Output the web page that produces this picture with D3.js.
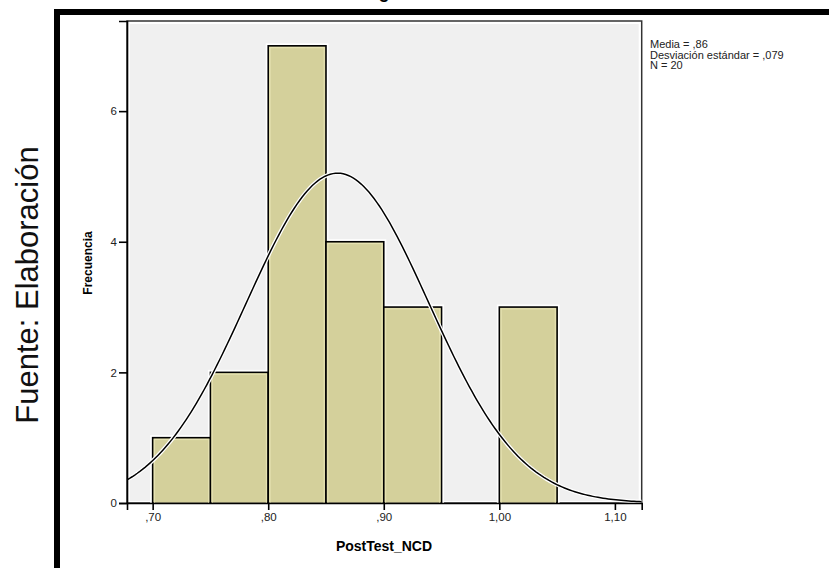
<!DOCTYPE html>
<html lang="es">
<head>
<meta charset="UTF-8">
<title>Histograma PostTest_NCD</title>
<script src="https://cdnjs.cloudflare.com/ajax/libs/d3/7.8.5/d3.min.js"></script>
<style>
  body { margin: 0; background: #fff; }
  svg { display: block; font-family: "Liberation Sans", Arial, sans-serif; }
</style>
</head>
<body>
<svg id="chart" width="829" height="568"></svg>
<script>
// data
const binStarts = [0.70, 0.75, 0.80, 0.85, 0.90, 0.95, 1.00];
const binCounts = [1, 2, 7, 4, 3, 0, 3];
const binWidth = 0.05;
const xTicks = [0.70, 0.80, 0.90, 1.00, 1.10];
const xTickLabels = [",70", ",80", ",90", "1,00", "1,10"];
const yTicks = [0, 2, 4, 6];
const statMean = 0.86;
const statSd = 0.079;
const statN = 20;
const legendLines = ["Media = ,86", "Desviación estándar = ,079", "N = 20"];

const svg = d3.select('#chart');

// plot box
const boxL = 127, boxR = 641.7, boxT = 21, boxB = 503;

const x = d3.scaleLinear().domain([0.6778, 1.1232]).range([boxL, boxR]);
const y = d3.scaleLinear().domain([0, 7.38]).range([boxB, boxT]);

// outer document frame + title cut by the page top
svg.append('text')
    .attr('x', 383).attr('y', -2)
    .attr('text-anchor', 'middle')
    .attr('font-size', 18).attr('font-weight', 'bold')
    .text('Histograma');

svg.append('path')
    .attr('d', 'M57,575 V12 H840')
    .attr('fill', 'none')
    .attr('stroke', '#000')
    .attr('stroke-width', 6);

svg.append('text')
    .attr('transform', 'translate(38,285) rotate(-90)')
    .attr('text-anchor', 'middle')
    .attr('font-size', 31)
    .attr('fill', '#111')
    .text('Fuente: Elaboración');

// plot background
svg.append('rect')
    .attr('x', boxL).attr('y', boxT)
    .attr('width', boxR - boxL).attr('height', boxB - boxT)
    .attr('fill', '#fff')
    .attr('stroke', '#333').attr('stroke-width', 1.5);
svg.append('rect')
    .attr('x', boxL + 3).attr('y', boxT + 3)
    .attr('width', boxR - boxL - 6).attr('height', boxB - boxT - 5)
    .attr('fill', '#f0f0f0');

svg.append('clipPath').attr('id', 'clip')
    .append('rect')
    .attr('x', boxL).attr('y', boxT)
    .attr('width', boxR - boxL).attr('height', boxB - boxT);

const plot = svg.append('g').attr('clip-path', 'url(#clip)');

const bins = binStarts.map((s, i) => ({ x0: s, x1: s + binWidth, n: binCounts[i] }))
    .filter(d => d.n > 0);

// white halo
plot.selectAll('rect.halo').data(bins).enter().append('rect')
    .attr('class', 'halo')
    .attr('x', d => x(d.x0)).attr('y', d => y(d.n))
    .attr('width', d => x(d.x1) - x(d.x0))
    .attr('height', d => y(0) - y(d.n))
    .attr('fill', 'none').attr('stroke', '#fff').attr('stroke-width', 5);

plot.selectAll('rect.bar').data(bins).enter().append('rect')
    .attr('class', 'bar')
    .attr('x', d => x(d.x0)).attr('y', d => y(d.n))
    .attr('width', d => x(d.x1) - x(d.x0))
    .attr('height', d => y(0) - y(d.n))
    .attr('fill', '#d4d09b').attr('stroke', '#000').attr('stroke-width', 1.6);

plot.selectAll('rect.inner').data(bins).enter().append('rect')
    .attr('class', 'inner')
    .attr('x', d => x(d.x0) + 1.8).attr('y', d => y(d.n) + 1.8)
    .attr('width', d => x(d.x1) - x(d.x0) - 3.6)
    .attr('height', d => y(0) - y(d.n) - 1.8)
    .attr('fill', 'none').attr('stroke', '#e6e2b2').attr('stroke-width', 1.2);

// normal curve
const scaleN = statN * binWidth;
const pdf = v => scaleN / (statSd * Math.sqrt(2 * Math.PI)) *
    Math.exp(-0.5 * Math.pow((v - statMean) / statSd, 2));
const curvePts = d3.range(0, 201).map(i => {
    const v = x.domain()[0] + (x.domain()[1] - x.domain()[0]) * i / 200;
    return [v, pdf(v)];
});
const line = d3.line().x(d => x(d[0])).y(d => y(d[1]));
plot.append('path').datum(curvePts)
    .attr('d', line).attr('fill', 'none')
    .attr('stroke', '#fff').attr('stroke-width', 4);
plot.append('path').datum(curvePts)
    .attr('d', line).attr('fill', 'none')
    .attr('stroke', '#000').attr('stroke-width', 1.5);

// axes
const xAxis = svg.append('g')
    .attr('transform', `translate(0,${boxB})`)
    .call(d3.axisBottom(x).tickValues(xTicks).tickSize(7).tickPadding(3)
        .tickFormat((d, i) => xTickLabels[i]));
const yAxis = svg.append('g')
    .attr('transform', `translate(${boxL},0)`)
    .call(d3.axisLeft(y).tickValues(yTicks).tickSize(8).tickPadding(2));

[xAxis, yAxis].forEach(g => {
    g.select('.domain').attr('stroke', '#000').attr('stroke-width', 1.6);
    g.selectAll('.tick line').attr('stroke', '#000').attr('stroke-width', 1.6);
    g.selectAll('.tick text').attr('font-size', 11.5)
        .attr('font-family', '"Liberation Sans", Arial, sans-serif')
        .attr('fill', '#222');
});

// axis titles
svg.append('text')
    .attr('x', 384).attr('y', 551)
    .attr('text-anchor', 'middle')
    .attr('font-size', 14).attr('font-weight', 'bold')
    .text('PostTest_NCD');

svg.append('text')
    .attr('transform', 'translate(92,263) rotate(-90)')
    .attr('text-anchor', 'middle')
    .attr('font-size', 12).attr('font-weight', 'bold')
    .text('Frecuencia');

// stats legend
svg.append('g').selectAll('text').data(legendLines).enter().append('text')
    .attr('x', 650).attr('y', (d, i) => 48 + i * 10.5)
    .attr('font-size', 11).attr('fill', '#222')
    .text(d => d);
</script>
</body>
</html>
